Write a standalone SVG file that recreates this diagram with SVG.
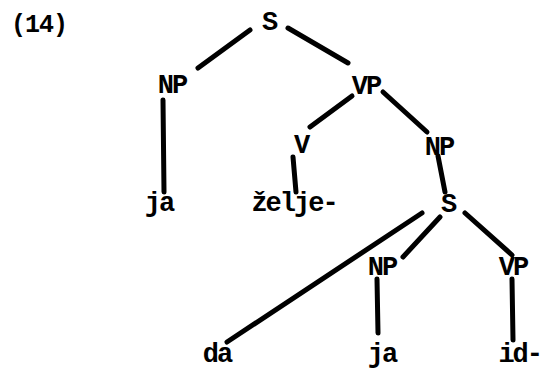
<svg xmlns="http://www.w3.org/2000/svg" width="543" height="369" viewBox="0 0 543 369">
<style>
text{font-family:"Liberation Mono","Courier New",monospace;font-weight:bold;font-size:27px;letter-spacing:-2px;fill:#000;text-anchor:middle}
.num{font-size:25px;letter-spacing:-1px;text-anchor:start}
.c line{stroke:#000;stroke-width:5;stroke-linecap:round}
</style>
<rect width="543" height="369" fill="#fff"/>
<text class="num" x="11" y="32">(14)</text>
<g class="c" id="connectors">
<line x1="250" y1="30" x2="198" y2="68"/>
<line x1="288" y1="28" x2="348" y2="63"/>
<line x1="163" y1="100" x2="164" y2="192"/>
<line x1="352" y1="96" x2="310" y2="127"/>
<line x1="383" y1="92" x2="427" y2="132"/>
<line x1="293" y1="157" x2="296" y2="192"/>
<line x1="438" y1="156" x2="445" y2="192"/>
<line x1="422" y1="213" x2="227" y2="342"/>
<line x1="440" y1="217" x2="403" y2="257"/>
<line x1="465" y1="213" x2="512" y2="255"/>
<line x1="377" y1="279" x2="378" y2="333"/>
<line x1="512" y1="279" x2="513" y2="340"/>
</g>
<g id="S1"><text x="269" y="30">S</text></g>
<g id="NP1"><text x="172" y="93">NP</text></g>
<g id="VP1"><text x="366" y="94">VP</text></g>
<g id="ja1"><text x="159" y="211">ja</text></g>
<g id="V"><text x="301" y="153">V</text></g>
<g id="NP2"><text x="439" y="155">NP</text></g>
<g id="zelje"><text x="294" y="211">želje-</text></g>
<g id="S2"><text x="448" y="212">S</text></g>
<g id="NP3"><text x="382" y="275">NP</text></g>
<g id="VP2"><text x="513" y="275">VP</text></g>
<g id="da"><text x="217" y="362">da</text></g>
<g id="ja2"><text x="382" y="362">ja</text></g>
<g id="id"><text x="541" y="362" style="text-anchor:end">id-</text></g>
</svg>
